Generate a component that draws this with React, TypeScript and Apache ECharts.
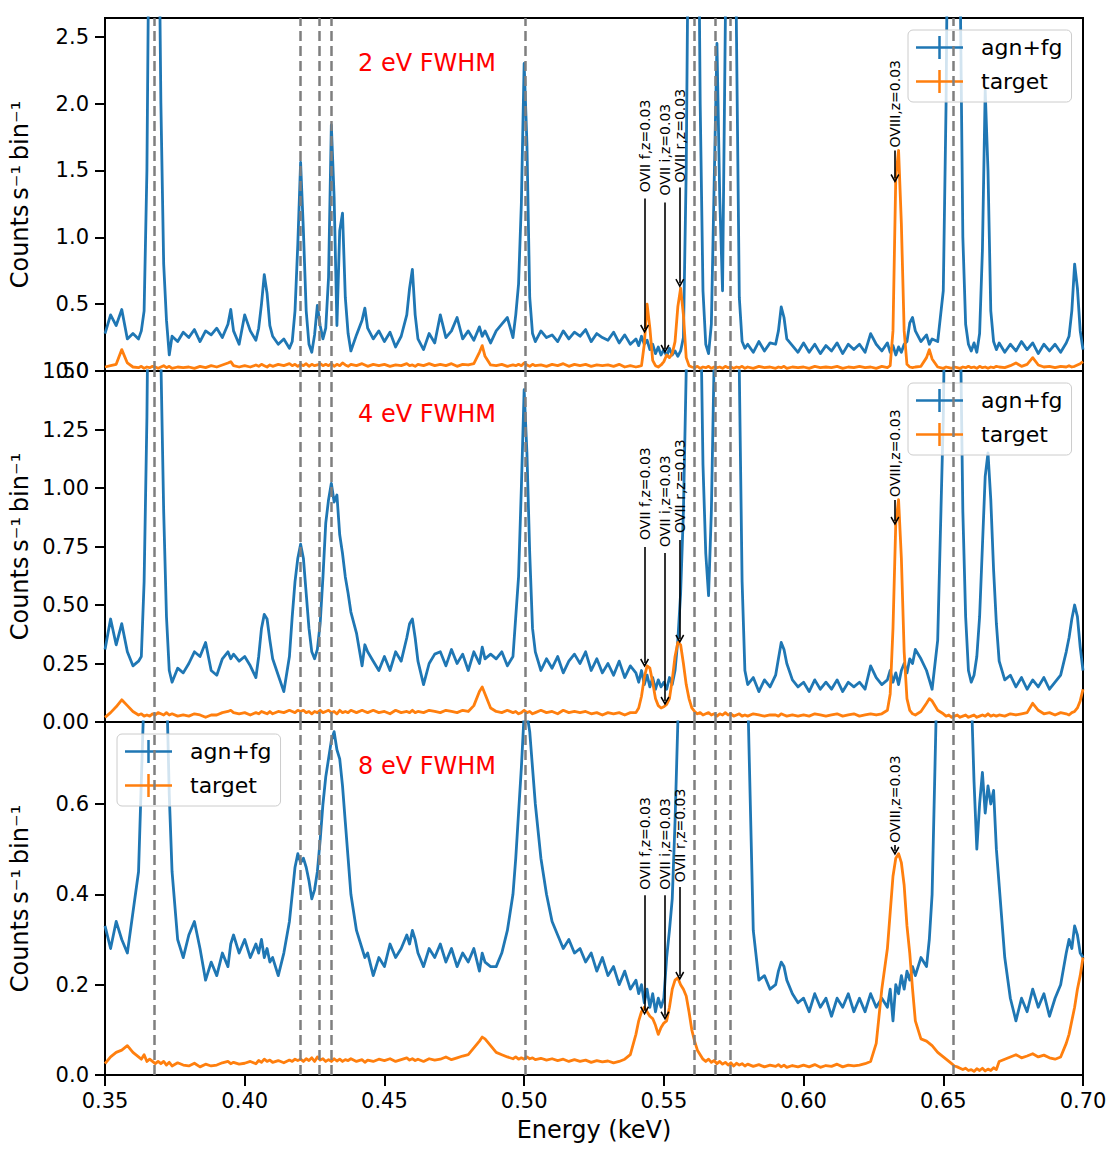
import React, { useEffect, useRef } from 'react';
import * as echarts from 'echarts';

// Bin energies (keV), grouped in 10 eV rows
const energyRows: number[][] = [
  [0.350, 0.352, 0.354, 0.356, 0.358],
  [0.360, 0.362, 0.363, 0.364, 0.365, 0.366, 0.367, 0.368, 0.369],
  [0.370, 0.371, 0.372, 0.373, 0.374, 0.376, 0.378],
  [0.380, 0.382, 0.384, 0.386, 0.388],
  [0.390, 0.392, 0.394, 0.395, 0.396, 0.398],
  [0.400, 0.402, 0.404, 0.405, 0.406, 0.407, 0.408, 0.409],
  [0.410, 0.412, 0.414, 0.416, 0.417, 0.418, 0.419],
  [0.420, 0.421, 0.422, 0.423, 0.424, 0.425, 0.426, 0.427, 0.428, 0.429],
  [0.430, 0.431, 0.432, 0.433, 0.434, 0.435, 0.436, 0.437, 0.438],
  [0.440, 0.442, 0.443, 0.444, 0.446, 0.448],
  [0.450, 0.452, 0.454, 0.456, 0.458, 0.459],
  [0.460, 0.461, 0.462, 0.464, 0.466, 0.468],
  [0.470, 0.472, 0.474, 0.476, 0.478],
  [0.480, 0.482, 0.484, 0.485, 0.486, 0.488],
  [0.490, 0.492, 0.494, 0.496, 0.497, 0.498, 0.499],
  [0.500, 0.501, 0.502, 0.503, 0.504, 0.506, 0.508],
  [0.510, 0.512, 0.514, 0.516, 0.518],
  [0.520, 0.522, 0.524, 0.526, 0.528],
  [0.530, 0.532, 0.534, 0.536, 0.538],
  [0.540, 0.541, 0.542, 0.543, 0.544, 0.545, 0.546, 0.547, 0.548, 0.549],
  [0.550, 0.551, 0.552, 0.553, 0.554, 0.555, 0.556, 0.557, 0.558, 0.559],
  [0.560, 0.561, 0.562, 0.563, 0.564, 0.565, 0.566, 0.567, 0.568, 0.569],
  [0.570, 0.571, 0.572, 0.573, 0.574, 0.575, 0.576, 0.577, 0.578, 0.579],
  [0.580, 0.582, 0.584, 0.586, 0.588],
  [0.590, 0.591, 0.592, 0.593, 0.594, 0.596, 0.598],
  [0.600, 0.602, 0.604, 0.606, 0.608],
  [0.610, 0.612, 0.614, 0.616, 0.618],
  [0.620, 0.622, 0.624, 0.626, 0.628],
  [0.630, 0.631, 0.632, 0.633, 0.634, 0.635, 0.636, 0.637, 0.638, 0.639],
  [0.640, 0.642, 0.644, 0.645, 0.646, 0.648],
  [0.650, 0.651, 0.652, 0.653, 0.654, 0.655, 0.656, 0.657, 0.658, 0.659],
  [0.660, 0.661, 0.662, 0.663, 0.664, 0.665, 0.666, 0.667, 0.668, 0.669],
  [0.670, 0.672, 0.674, 0.676, 0.678],
  [0.680, 0.682, 0.684, 0.686, 0.688],
  [0.690, 0.692, 0.694, 0.695, 0.696, 0.697, 0.698, 0.699],
  [0.700],
];

// 2 eV FWHM panel
const agn2eV: number[][] = [
  [0.28, 0.42, 0.34, 0.46, 0.24],
  [0.28, 0.24, 0.30, 0.45, 1.5, 4.0, 6.0, 6.0, 4.0],
  [2.0, 0.8, 0.38, 0.12, 0.26, 0.22, 0.29],
  [0.25, 0.31, 0.22, 0.30, 0.27],
  [0.32, 0.25, 0.35, 0.46, 0.30, 0.20],
  [0.42, 0.30, 0.23, 0.32, 0.50, 0.72, 0.58, 0.34],
  [0.26, 0.20, 0.24, 0.17, 0.22, 0.45, 0.95],
  [1.56, 1.05, 0.45, 0.20, 0.14, 0.27, 0.49, 0.34, 0.24, 0.32],
  [0.70, 1.84, 1.30, 0.34, 1.05, 1.18, 0.55, 0.28, 0.15],
  [0.27, 0.38, 0.47, 0.32, 0.24, 0.30],
  [0.22, 0.29, 0.18, 0.26, 0.42, 0.62],
  [0.76, 0.42, 0.24, 0.16, 0.28, 0.21],
  [0.42, 0.25, 0.30, 0.40, 0.24],
  [0.30, 0.23, 0.33, 0.26, 0.30, 0.21],
  [0.30, 0.35, 0.40, 0.25, 0.42, 0.65, 1.25],
  [2.30, 1.70, 0.55, 0.28, 0.22, 0.30, 0.25],
  [0.27, 0.22, 0.30, 0.24, 0.29],
  [0.26, 0.31, 0.22, 0.28, 0.25],
  [0.23, 0.29, 0.21, 0.27, 0.20],
  [0.24, 0.19, 0.26, 0.20, 0.23, 0.16, 0.20, 0.13, 0.18, 0.12],
  [0.16, 0.11, 0.17, 0.12, 0.15, 0.11, 0.15, 0.25, 1.5, 4.0],
  [6.0, 6.0, 4.5, 2.0, 0.6, 0.2, 0.13, 0.35, 1.4, 2.45],
  [1.3, 0.6, 2.6, 5.0, 6.0, 4.5, 2.5, 0.55, 0.22, 0.17],
  [0.20, 0.14, 0.22, 0.15, 0.21],
  [0.20, 0.30, 0.48, 0.40, 0.24, 0.19, 0.14],
  [0.21, 0.14, 0.20, 0.13, 0.19],
  [0.15, 0.21, 0.13, 0.20, 0.16],
  [0.20, 0.14, 0.28, 0.20, 0.15],
  [0.21, 0.14, 0.19, 0.12, 0.18, 0.14, 0.20, 0.22, 0.36, 0.40],
  [0.30, 0.22, 0.27, 0.20, 0.24, 0.22],
  [0.6, 2.0, 4.5, 6.0, 6.0, 5.0, 3.0, 1.0, 0.35, 0.20],
  [0.15, 0.21, 0.14, 0.28, 0.9, 2.1, 1.5, 0.45, 0.22, 0.16],
  [0.21, 0.14, 0.20, 0.15, 0.22],
  [0.16, 0.21, 0.13, 0.20, 0.15],
  [0.20, 0.14, 0.21, 0.26, 0.45, 0.80, 0.62, 0.30],
  [0.16],
];
const target2eV: number[][] = [
  [0.03, 0.04, 0.05, 0.16, 0.06],
  [0.03, 0.025, 0.035, 0.02, 0.03, 0.025, 0.035, 0.03, 0.02],
  [0.03, 0.04, 0.025, 0.035, 0.02, 0.03, 0.025],
  [0.03, 0.02, 0.035, 0.025, 0.04],
  [0.03, 0.045, 0.06, 0.07, 0.04, 0.03],
  [0.04, 0.03, 0.045, 0.035, 0.05, 0.04, 0.03, 0.045],
  [0.035, 0.05, 0.04, 0.055, 0.04, 0.05, 0.035],
  [0.05, 0.04, 0.055, 0.035, 0.05, 0.04, 0.045, 0.055, 0.04, 0.05],
  [0.04, 0.055, 0.035, 0.05, 0.04, 0.06, 0.045, 0.035, 0.05],
  [0.04, 0.055, 0.045, 0.035, 0.05, 0.04],
  [0.05, 0.035, 0.045, 0.04, 0.055, 0.04],
  [0.045, 0.035, 0.05, 0.04, 0.055, 0.04],
  [0.05, 0.04, 0.055, 0.035, 0.05],
  [0.045, 0.055, 0.14, 0.19, 0.11, 0.045],
  [0.04, 0.05, 0.035, 0.045, 0.04, 0.05, 0.04],
  [0.06, 0.045, 0.035, 0.05, 0.04, 0.045, 0.035],
  [0.05, 0.04, 0.055, 0.035, 0.05],
  [0.04, 0.05, 0.035, 0.045, 0.04],
  [0.045, 0.035, 0.05, 0.03, 0.04],
  [0.03, 0.035, 0.04, 0.20, 0.50, 0.32, 0.08, 0.04, 0.03, 0.045],
  [0.07, 0.12, 0.10, 0.13, 0.22, 0.48, 0.62, 0.42, 0.10, 0.04],
  [0.03, 0.025, 0.035, 0.02, 0.03, 0.025, 0.035, 0.02, 0.03, 0.025],
  [0.03, 0.02, 0.035, 0.025, 0.03, 0.02, 0.03, 0.025, 0.035, 0.02],
  [0.03, 0.02, 0.035, 0.025, 0.03],
  [0.02, 0.03, 0.025, 0.035, 0.02, 0.03, 0.025],
  [0.03, 0.02, 0.035, 0.025, 0.03],
  [0.025, 0.035, 0.02, 0.03, 0.025],
  [0.035, 0.025, 0.03, 0.02, 0.035],
  [0.025, 0.04, 0.30, 1.45, 1.65, 1.10, 0.30, 0.05, 0.03, 0.025],
  [0.03, 0.035, 0.10, 0.16, 0.09, 0.03],
  [0.02, 0.03, 0.025, 0.02, 0.03, 0.025, 0.02, 0.03, 0.025, 0.035],
  [0.025, 0.03, 0.02, 0.035, 0.025, 0.03, 0.02, 0.03, 0.025, 0.035],
  [0.03, 0.025, 0.04, 0.06, 0.035],
  [0.05, 0.10, 0.045, 0.03, 0.035],
  [0.025, 0.035, 0.03, 0.04, 0.03, 0.035, 0.045, 0.055],
  [0.07],
];

// 4 eV FWHM panel
const agn4eV: number[][] = [
  [0.31, 0.44, 0.33, 0.42, 0.30],
  [0.24, 0.26, 0.28, 0.60, 1.30, 2.5, 3.5, 3.5, 2.8],
  [1.55, 0.90, 0.45, 0.22, 0.17, 0.23, 0.21],
  [0.25, 0.30, 0.28, 0.34, 0.22],
  [0.20, 0.27, 0.30, 0.27, 0.29, 0.26],
  [0.28, 0.24, 0.19, 0.28, 0.40, 0.46, 0.44, 0.35],
  [0.27, 0.20, 0.13, 0.28, 0.45, 0.60, 0.70],
  [0.76, 0.70, 0.55, 0.40, 0.30, 0.27, 0.31, 0.42, 0.62, 0.85],
  [0.95, 1.02, 0.94, 0.97, 0.80, 0.72, 0.62, 0.55, 0.47],
  [0.38, 0.24, 0.33, 0.30, 0.26, 0.22],
  [0.28, 0.22, 0.30, 0.26, 0.36, 0.42],
  [0.44, 0.36, 0.26, 0.16, 0.25, 0.29],
  [0.30, 0.24, 0.31, 0.25, 0.29],
  [0.22, 0.30, 0.25, 0.32, 0.27, 0.29],
  [0.27, 0.30, 0.24, 0.28, 0.45, 0.62, 1.0],
  [1.42, 1.15, 0.72, 0.40, 0.30, 0.22, 0.27],
  [0.23, 0.28, 0.21, 0.26, 0.29],
  [0.25, 0.30, 0.22, 0.27, 0.21],
  [0.25, 0.20, 0.26, 0.19, 0.24],
  [0.21, 0.17, 0.22, 0.16, 0.20, 0.15, 0.19, 0.14, 0.18, 0.15],
  [0.17, 0.14, 0.19, 0.16, 0.22, 0.35, 0.55, 0.90, 1.5, 2.4],
  [3.0, 3.4, 3.0, 1.9, 1.1, 0.72, 0.54, 0.90, 1.55, 2.5],
  [3.0, 3.0, 3.2, 3.5, 3.6, 3.2, 2.5, 1.5, 0.6, 0.22],
  [0.16, 0.19, 0.13, 0.18, 0.15],
  [0.20, 0.27, 0.34, 0.31, 0.25, 0.18, 0.15],
  [0.17, 0.13, 0.18, 0.14, 0.17],
  [0.14, 0.18, 0.13, 0.17, 0.15],
  [0.17, 0.14, 0.24, 0.19, 0.16],
  [0.18, 0.22, 0.17, 0.21, 0.16, 0.22, 0.25, 0.21, 0.27, 0.25],
  [0.31, 0.27, 0.22, 0.18, 0.14, 0.35],
  [1.3, 2.2, 2.8, 3.0, 3.0, 2.8, 1.8, 0.9, 0.45, 0.22],
  [0.17, 0.20, 0.28, 0.45, 0.75, 1.05, 1.15, 0.95, 0.65, 0.42],
  [0.26, 0.18, 0.20, 0.15, 0.19],
  [0.14, 0.18, 0.15, 0.19, 0.14],
  [0.17, 0.20, 0.30, 0.36, 0.44, 0.50, 0.45, 0.32],
  [0.22],
];
const target4eV: number[][] = [
  [0.02, 0.04, 0.065, 0.095, 0.07],
  [0.045, 0.03, 0.035, 0.025, 0.03, 0.025, 0.035, 0.03, 0.04],
  [0.035, 0.03, 0.04, 0.03, 0.035, 0.025, 0.03],
  [0.025, 0.035, 0.03, 0.02, 0.03],
  [0.03, 0.04, 0.045, 0.05, 0.04, 0.035],
  [0.04, 0.03, 0.04, 0.035, 0.045, 0.04, 0.035, 0.045],
  [0.035, 0.045, 0.04, 0.05, 0.045, 0.04, 0.05],
  [0.045, 0.05, 0.04, 0.045, 0.035, 0.045, 0.04, 0.05, 0.04, 0.045],
  [0.05, 0.04, 0.045, 0.035, 0.05, 0.04, 0.045, 0.04, 0.05],
  [0.04, 0.05, 0.045, 0.04, 0.05, 0.04],
  [0.045, 0.035, 0.05, 0.04, 0.045, 0.04],
  [0.05, 0.04, 0.045, 0.04, 0.05, 0.045],
  [0.04, 0.05, 0.045, 0.04, 0.05],
  [0.045, 0.07, 0.13, 0.15, 0.12, 0.06],
  [0.045, 0.04, 0.05, 0.04, 0.045, 0.035, 0.04],
  [0.05, 0.04, 0.045, 0.035, 0.04, 0.05, 0.04],
  [0.045, 0.035, 0.05, 0.04, 0.045],
  [0.04, 0.045, 0.035, 0.04, 0.03],
  [0.04, 0.035, 0.04, 0.03, 0.04],
  [0.04, 0.06, 0.11, 0.19, 0.24, 0.23, 0.17, 0.10, 0.07, 0.06],
  [0.065, 0.075, 0.10, 0.18, 0.28, 0.34, 0.33, 0.25, 0.16, 0.10],
  [0.06, 0.045, 0.035, 0.04, 0.03, 0.035, 0.04, 0.03, 0.035, 0.025],
  [0.035, 0.03, 0.04, 0.03, 0.035, 0.025, 0.03, 0.035, 0.025, 0.03],
  [0.025, 0.035, 0.03, 0.025, 0.03],
  [0.03, 0.025, 0.035, 0.03, 0.025, 0.03, 0.025],
  [0.03, 0.025, 0.035, 0.03, 0.025],
  [0.03, 0.035, 0.025, 0.03, 0.035],
  [0.025, 0.03, 0.035, 0.03, 0.035],
  [0.05, 0.12, 0.40, 0.85, 0.95, 0.70, 0.30, 0.10, 0.05, 0.035],
  [0.03, 0.045, 0.08, 0.10, 0.09, 0.05],
  [0.035, 0.025, 0.03, 0.02, 0.025, 0.03, 0.02, 0.025, 0.03, 0.02],
  [0.025, 0.03, 0.02, 0.025, 0.03, 0.025, 0.035, 0.025, 0.03, 0.025],
  [0.03, 0.025, 0.035, 0.03, 0.035],
  [0.04, 0.08, 0.05, 0.035, 0.04],
  [0.03, 0.04, 0.035, 0.03, 0.04, 0.045, 0.06, 0.09],
  [0.14],
];

// 8 eV FWHM panel
const agn8eV: number[][] = [
  [0.33, 0.28, 0.34, 0.30, 0.27],
  [0.36, 0.45, 0.65, 0.85, 1.1, 1.3, 1.4, 1.4, 1.35],
  [1.20, 1.05, 0.88, 0.62, 0.45, 0.30, 0.26],
  [0.31, 0.34, 0.28, 0.21, 0.25],
  [0.22, 0.27, 0.24, 0.29, 0.31, 0.27],
  [0.30, 0.26, 0.29, 0.27, 0.30, 0.26, 0.28, 0.25],
  [0.26, 0.22, 0.27, 0.34, 0.40, 0.46, 0.49],
  [0.47, 0.48, 0.46, 0.43, 0.39, 0.41, 0.45, 0.52, 0.60, 0.66],
  [0.70, 0.74, 0.76, 0.72, 0.70, 0.64, 0.56, 0.48, 0.40],
  [0.32, 0.28, 0.26, 0.27, 0.22, 0.26],
  [0.24, 0.29, 0.26, 0.28, 0.31, 0.29],
  [0.32, 0.30, 0.27, 0.24, 0.28, 0.26],
  [0.29, 0.25, 0.28, 0.24, 0.27],
  [0.25, 0.28, 0.23, 0.27, 0.25, 0.24],
  [0.24, 0.27, 0.32, 0.40, 0.48, 0.58, 0.68],
  [0.80, 0.80, 0.76, 0.68, 0.60, 0.48, 0.40],
  [0.34, 0.31, 0.28, 0.30, 0.27],
  [0.28, 0.25, 0.27, 0.23, 0.26],
  [0.22, 0.24, 0.20, 0.23, 0.19],
  [0.21, 0.18, 0.20, 0.16, 0.19, 0.15, 0.18, 0.14, 0.17, 0.15],
  [0.17, 0.26, 0.32, 0.39, 0.56, 0.78, 0.95, 1.1, 1.2, 1.3],
  [1.4, 1.5, 1.5, 1.4, 1.3, 1.25, 1.3, 1.4, 1.45, 1.5],
  [1.5, 1.5, 1.5, 1.5, 1.45, 1.35, 1.25, 1.1, 1.0, 0.9],
  [0.85, 0.32, 0.21, 0.22, 0.19],
  [0.20, 0.23, 0.25, 0.24, 0.21, 0.18, 0.16],
  [0.17, 0.14, 0.18, 0.15, 0.17],
  [0.13, 0.17, 0.15, 0.18, 0.14],
  [0.17, 0.14, 0.18, 0.15, 0.17],
  [0.15, 0.19, 0.12, 0.20, 0.18, 0.22, 0.19, 0.23, 0.21, 0.24],
  [0.22, 0.26, 0.24, 0.30, 0.40, 0.95],
  [1.2, 1.4, 1.5, 1.6, 1.6, 1.55, 1.5, 1.4, 1.3, 1.2],
  [0.85, 0.65, 0.50, 0.60, 0.67, 0.58, 0.64, 0.60, 0.63, 0.50],
  [0.42, 0.26, 0.17, 0.12, 0.17],
  [0.14, 0.19, 0.15, 0.18, 0.13],
  [0.17, 0.20, 0.27, 0.30, 0.28, 0.33, 0.31, 0.27],
  [0.26],
];
const target8eV: number[][] = [
  [0.025, 0.04, 0.05, 0.055, 0.065],
  [0.05, 0.04, 0.035, 0.045, 0.03, 0.035, 0.03, 0.025, 0.03],
  [0.025, 0.03, 0.022, 0.028, 0.02, 0.027, 0.022],
  [0.02, 0.026, 0.018, 0.024, 0.02],
  [0.022, 0.027, 0.03, 0.025, 0.028, 0.024],
  [0.026, 0.03, 0.025, 0.032, 0.028, 0.035, 0.03, 0.033],
  [0.028, 0.032, 0.027, 0.033, 0.03, 0.035, 0.032],
  [0.035, 0.03, 0.036, 0.032, 0.038, 0.03, 0.04, 0.033, 0.036, 0.03],
  [0.034, 0.03, 0.036, 0.031, 0.035, 0.03, 0.034, 0.032, 0.036],
  [0.03, 0.034, 0.028, 0.033, 0.03, 0.035],
  [0.032, 0.036, 0.03, 0.034, 0.038, 0.033],
  [0.036, 0.032, 0.035, 0.03, 0.036, 0.033],
  [0.035, 0.04, 0.034, 0.038, 0.042],
  [0.045, 0.06, 0.075, 0.084, 0.08, 0.065],
  [0.05, 0.045, 0.04, 0.036, 0.04, 0.035, 0.038],
  [0.035, 0.04, 0.036, 0.038, 0.034, 0.037, 0.033],
  [0.036, 0.032, 0.035, 0.03, 0.034],
  [0.03, 0.033, 0.028, 0.032, 0.029],
  [0.031, 0.027, 0.03, 0.035, 0.045],
  [0.09, 0.12, 0.14, 0.15, 0.14, 0.13, 0.125, 0.11, 0.09, 0.105],
  [0.115, 0.12, 0.15, 0.19, 0.21, 0.215, 0.20, 0.19, 0.175, 0.14],
  [0.10, 0.075, 0.055, 0.045, 0.035, 0.03, 0.035, 0.028, 0.032, 0.025],
  [0.03, 0.024, 0.028, 0.022, 0.027, 0.02, 0.026, 0.022, 0.025, 0.02],
  [0.024, 0.019, 0.023, 0.018, 0.022],
  [0.019, 0.023, 0.018, 0.022, 0.017, 0.021, 0.018],
  [0.022, 0.018, 0.023, 0.017, 0.021],
  [0.019, 0.024, 0.018, 0.022, 0.02],
  [0.022, 0.025, 0.03, 0.07, 0.19],
  [0.28, 0.36, 0.44, 0.48, 0.49, 0.47, 0.42, 0.33, 0.27, 0.19],
  [0.12, 0.08, 0.075, 0.07, 0.065, 0.05],
  [0.04, 0.035, 0.03, 0.025, 0.02, 0.018, 0.015, 0.012, 0.015, 0.01],
  [0.012, 0.008, 0.014, 0.01, 0.015, 0.009, 0.013, 0.01, 0.016, 0.012],
  [0.03, 0.035, 0.04, 0.045, 0.038],
  [0.042, 0.047, 0.04, 0.044, 0.038],
  [0.035, 0.04, 0.07, 0.09, 0.12, 0.15, 0.19, 0.22],
  [0.26],
];

// rest-frame line energies (dashed)
const restLines = [0.3675, 0.4197, 0.4265, 0.4308, 0.5005, 0.561, 0.5685, 0.5738, 0.6535];

// redshifted line annotations
const annText = ['OVII f,z=0.03', 'OVII i,z=0.03', 'OVII r,z=0.03', 'OVIII,z=0.03'];
const annEnergy = [0.5431, 0.5504, 0.5557, 0.6327];
const annTextY2 = [1.336, 1.313, 1.41, 1.672];
const annTopY2 = [1.291, 1.261, 1.373, 1.649];
const annTipY2 = [0.314, 0.164, 0.657, 1.44];
const annTextY4 = [0.778, 0.748, 0.808, 0.962];
const annTopY4 = [0.748, 0.722, 0.778, 0.949];
const annTipY4 = [0.252, 0.09, 0.355, 0.859];
const annTextY8 = [0.41, 0.41, 0.427, 0.514];
const annTopY8 = [0.398, 0.398, 0.416, 0.509];
const annTipY8 = [0.142, 0.131, 0.219, 0.496];

const yTicks2 = [0, 0.5, 1.0, 1.5, 2.0, 2.5];
const yTicks4 = [0, 0.25, 0.5, 0.75, 1.0, 1.25, 1.5];
const yTicks8 = [0, 0.2, 0.4, 0.6];
const panelLabels = ['2 eV FWHM', '4 eV FWHM', '8 eV FWHM'];

const BLUE = '#1f77b4';
const ORANGE = '#ff7f0e';
const FONT = 'DejaVu Sans';
const CHEVRON = 'path://M5,0L10,8.5L8.6,9.5L5,3.4L1.4,9.5L0,8.5Z';
const LEGEND_ICON = 'path://M0,10.25L47,10.25L47,12.75L0,12.75Z M22.25,0L24.75,0L24.75,23L22.25,23Z';

function zipRows(xs: number[][], ys: number[][]): number[][] {
  const out: number[][] = [];
  xs.forEach((row, i) => {
    const v = ys[i] || [];
    if (v.length !== row.length) console.warn('row length mismatch', i, row.length, v.length);
    const n = Math.min(row.length, v.length);
    for (let k = 0; k < n; k++) out.push([row[k], v[k]]);
  });
  return out;
}

function buildOption() {
  const panels = [
    { agn: agn2eV, tgt: target2eV, ymax: 2.64, ticks: yTicks2, dec: 1, textY: annTextY2, topY: annTopY2, tipY: annTipY2, top: 18, height: 353, titleTop: 51 },
    { agn: agn4eV, tgt: target4eV, ymax: 1.5, ticks: yTicks4, dec: 2, textY: annTextY4, topY: annTopY4, tipY: annTipY4, top: 371, height: 351, titleTop: 402 },
    { agn: agn8eV, tgt: target8eV, ymax: 0.7815, ticks: yTicks8, dec: 1, textY: annTextY8, topY: annTopY8, tipY: annTipY8, top: 722, height: 353, titleTop: 754 },
  ];

  const grid = panels.map((p) => ({
    left: 105, width: 978, top: p.top, height: p.height,
    show: true, borderColor: '#000', borderWidth: 2, backgroundColor: 'transparent',
  }));

  const xAxis = panels.map((p, i) => ({
    type: 'value', gridIndex: i, min: 0.35, max: 0.70, interval: 0.05,
    axisLine: { show: true, lineStyle: { color: '#000', width: 2 } },
    axisTick: { show: i === 2, length: 11, lineStyle: { color: '#000', width: 2 } },
    axisLabel: { show: i === 2, fontSize: 21, color: '#000', margin: 15, fontFamily: FONT, formatter: (v: number) => v.toFixed(2) },
    splitLine: { show: false },
    name: i === 2 ? 'Energy (keV)' : '',
    nameLocation: 'middle', nameGap: 43,
    nameTextStyle: { fontSize: 24, color: '#000', fontFamily: FONT },
  }));

  const yAxis = panels.map((p, i) => {
    const step = p.ticks[1];
    return {
      type: 'value', gridIndex: i, min: 0, max: p.ymax, interval: step,
      axisLine: { show: true, lineStyle: { color: '#000', width: 2 } },
      axisTick: { show: true, length: 10, lineStyle: { color: '#000', width: 2 }, customValues: p.ticks },
      axisLabel: {
        fontSize: 21, color: '#000', margin: 16, fontFamily: FONT, customValues: p.ticks,
        formatter: (v: number) => (Math.abs(v / step - Math.round(v / step)) < 1e-6 ? v.toFixed(p.dec) : ''),
      },
      splitLine: { show: false },
    };
  });

  const series: any[] = [];
  panels.forEach((p, i) => {
    series.push({
      type: 'line', name: 'agn+fg', xAxisIndex: i, yAxisIndex: i,
      data: zipRows(energyRows, p.agn), showSymbol: false, symbol: 'none',
      lineStyle: { color: BLUE, width: 2.8, join: 'round' }, itemStyle: { color: BLUE },
      z: 2, clip: true, silent: true,
    });
    const arrows = annEnergy.map((e, k) => [
      { coord: [e, p.topY[k]], symbol: 'none', lineStyle: { color: '#000', width: 1.6, type: 'solid' } },
      { coord: [e, p.tipY[k]], symbol: CHEVRON, symbolSize: [9, 9] },
    ]);
    const dashes = restLines.map((e) => ({
      xAxis: e, lineStyle: { color: '#7f7f7f', width: 2.5, type: [10, 5] },
    }));
    series.push({
      type: 'line', name: 'target', xAxisIndex: i, yAxisIndex: i,
      data: zipRows(energyRows, p.tgt), showSymbol: false, symbol: 'none',
      lineStyle: { color: ORANGE, width: 2.8, join: 'round' }, itemStyle: { color: ORANGE },
      z: 3, clip: true, silent: true,
      markLine: {
        silent: true, symbol: ['none', 'none'], label: { show: false }, precision: 5,
        data: [...dashes, ...arrows],
      },
      markPoint: {
        silent: true, symbol: 'circle', symbolSize: 1,
        itemStyle: { color: 'rgba(0,0,0,0)' },
        label: {
          show: true, position: 'inside', rotate: 90, align: 'left', verticalAlign: 'middle',
          fontSize: 14, color: '#000', fontFamily: FONT, formatter: '{b}',
        },
        data: annText.map((t, k) => ({ name: t, coord: [annEnergy[k], p.textY[k]] })),
      },
    });
  });

  const legendBase = {
    orient: 'vertical', data: ['agn+fg', 'target'], icon: LEGEND_ICON,
    itemWidth: 47, itemHeight: 23, itemGap: 11, padding: [6, 9, 9, 8],
    selectedMode: false,
    textStyle: { fontSize: 22, color: '#000', fontFamily: FONT, padding: [0, 0, 0, 13] },
    itemStyle: { borderWidth: 0 },
    backgroundColor: 'rgba(255,255,255,0.8)', borderColor: '#cccccc', borderWidth: 1, borderRadius: 5,
  };
  const legend = [
    { ...legendBase, left: 908, top: 30 },
    { ...legendBase, left: 908, top: 383 },
    { ...legendBase, left: 117, top: 734 },
  ];

  const title = panels.map((p, i) => ({
    text: panelLabels[i], left: 358, top: p.titleTop, padding: 0,
    textStyle: { color: '#ff0000', fontSize: 24, fontWeight: 'normal', fontFamily: FONT },
  }));

  const graphic = panels.map((p) => ({
    type: 'text', x: 20, y: p.top + p.height / 2, rotation: Math.PI / 2,
    style: { text: 'Counts\u2009s\u207B\u00B9\u2009bin\u207B\u00B9', fontSize: 24, fontFamily: FONT, fill: '#000', align: 'center', verticalAlign: 'middle' },
  }));

  return {
    animation: false,
    backgroundColor: '#fff',
    textStyle: { fontFamily: FONT },
    grid, xAxis, yAxis, series, legend, title, graphic,
  };
}

export default function App() {
  const ref = useRef<HTMLDivElement>(null);
  useEffect(() => {
    if (!ref.current) return;
    const chart = echarts.init(ref.current, null, { renderer: 'svg' });
    chart.setOption(buildOption() as any);
    return () => chart.dispose();
  }, []);
  return <div ref={ref} style={{ position: 'absolute', left: 0, top: 0, width: 1116, height: 1150 }} />;
}
